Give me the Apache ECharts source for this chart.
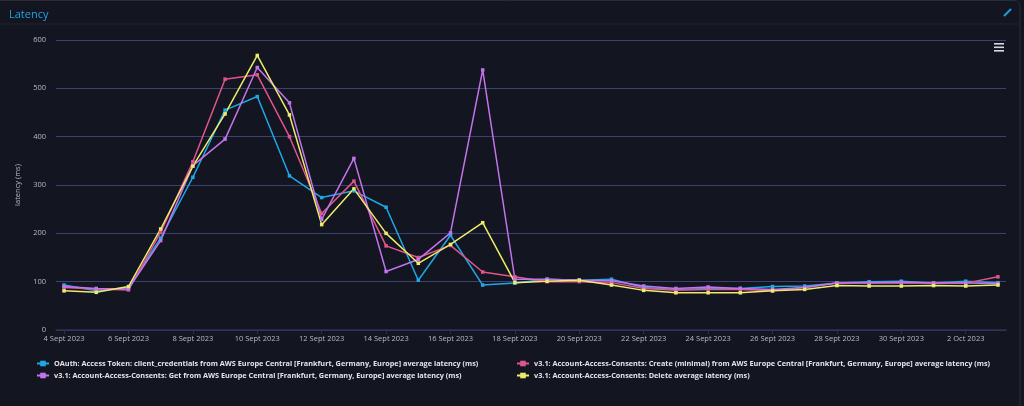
<!DOCTYPE html>
<html>
<head>
<meta charset="utf-8">
<title>Latency</title>
<script src="https://cdn.jsdelivr.net/npm/echarts@6/dist/echarts.min.js"></script>
<style>
  html, body { margin: 0; padding: 0; background: #131520; }
  #chart { width: 1024px; height: 406px; }
</style>
</head>
<body>
<div id="chart"></div>
<script>
// one point per day, 4 Sept -> 3 Oct 2023
var days = ['4 Sept 2023','5 Sept 2023','6 Sept 2023','7 Sept 2023','8 Sept 2023','9 Sept 2023','10 Sept 2023',
  '11 Sept 2023','12 Sept 2023','13 Sept 2023','14 Sept 2023','15 Sept 2023','16 Sept 2023','17 Sept 2023',
  '18 Sept 2023','19 Sept 2023','20 Sept 2023','21 Sept 2023','22 Sept 2023','23 Sept 2023','24 Sept 2023',
  '25 Sept 2023','26 Sept 2023','27 Sept 2023','28 Sept 2023','29 Sept 2023','30 Sept 2023','1 Oct 2023',
  '2 Oct 2023','3 Oct 2023'];

var names = [
  'OAuth: Access Token: client_credentials from AWS Europe Central [Frankfurt, Germany, Europe] average latency (ms)',
  'v3.1: Account-Access-Consents: Create (minimal) from AWS Europe Central [Frankfurt, Germany, Europe] average latency (ms)',
  'v3.1: Account-Access-Consents: Get from AWS Europe Central [Frankfurt, Germany, Europe] average latency (ms)',
  'v3.1: Account-Access-Consents: Delete average latency (ms)'
];

var oauth  = [93,81,88,190,316,455,483,319,274,288,254,103,196,93,97,105,103,105,88,84,86,86,90,91,97,100,101,97,101,98];
var create = [88,85,83,202,348,519,528,400,241,308,174,150,175,120,110,100,100,98,86,82,84,84,81,88,97,97,98,97,97,110];
var get    = [90,86,85,185,340,395,543,470,229,355,121,146,201,538,105,105,103,102,91,86,89,86,84,88,97,98,99,97,97,96];
var del    = [81,78,90,209,339,447,568,445,218,292,200,138,177,222,98,101,103,93,82,77,77,77,81,84,92,91,91,92,91,93];

// x tick labels every 2 days
var tickDays = ['4 Sept 2023','6 Sept 2023','8 Sept 2023','10 Sept 2023','12 Sept 2023','14 Sept 2023','16 Sept 2023',
  '18 Sept 2023','20 Sept 2023','22 Sept 2023','24 Sept 2023','26 Sept 2023','28 Sept 2023','30 Sept 2023','2 Oct 2023'];

var colors = ['#1ea8e6', '#e2548c', '#c274ec', '#ecec6a'];

function pairs(vals) {
  return vals.map(function (v, i) { return [i, v]; });
}

var chart = echarts.init(document.getElementById('chart'));
var ticks = tickDays.map(function (d) { return days.indexOf(d); });
var all = [oauth, create, get, del];
var legendText = { color: '#e4e4ea', fontSize: 7.3, fontWeight: 'bold', fontFamily: 'Open Sans' };

chart.setOption({
  animation: false,
  backgroundColor: '#131520',
  color: colors,
  title: {
    text: 'Latency',
    left: 4, top: 4,
    textStyle: { color: '#1ea3e4', fontSize: 11, fontWeight: 'normal', fontFamily: 'Open Sans' }
  },
  graphic: [
    { type: 'line', shape: { x1: 0, y1: 24, x2: 1019, y2: 24 }, style: { stroke: '#23262f', lineWidth: 1 } },
    { type: 'rect', shape: { x: -10, y: 0.5, width: 1030, height: 420, r: 6 },
      style: { fill: 'none', stroke: '#2a2d38', lineWidth: 1 } },
    { type: 'line', shape: { x1: 1004, y1: 16, x2: 1011, y2: 9 }, style: { stroke: '#1e9be0', lineWidth: 2 } },
    { type: 'rect', shape: { x: 994, y: 43, width: 10, height: 1.6 }, style: { fill: '#d8d8e0' } },
    { type: 'rect', shape: { x: 994, y: 46.5, width: 10, height: 1.6 }, style: { fill: '#d8d8e0' } },
    { type: 'rect', shape: { x: 994, y: 50, width: 10, height: 1.6 }, style: { fill: '#d8d8e0' } }
  ],
  legend: [
    {
      orient: 'vertical', left: 31, top: 355, itemGap: 5,
      itemWidth: 12, itemHeight: 7,
      data: [names[0], names[2]],
      textStyle: legendText
    },
    {
      orient: 'vertical', left: 511, top: 355, itemGap: 5,
      itemWidth: 12, itemHeight: 7,
      data: [names[1], names[3]],
      textStyle: legendText
    }
  ],
  grid: { left: 56, right: 18, top: 40, bottom: 76 },
  xAxis: {
    type: 'value',
    min: -0.25,
    max: days.length - 0.75,
    splitLine: { show: false },
    axisLine: { lineStyle: { color: '#2c3050', width: 1.5 } },
    axisTick: { customValues: ticks, length: 4, lineStyle: { color: '#2c3050' } },
    axisLabel: {
      customValues: ticks,
      color: '#b9b9c2', fontSize: 7.5, fontFamily: 'Open Sans', margin: 5,
      formatter: function (v) { return days[Math.round(v)]; }
    }
  },
  yAxis: {
    type: 'value',
    min: 0, max: 600, interval: 100,
    name: 'latency (ms)',
    nameLocation: 'middle',
    nameGap: 8,
    nameTextStyle: { color: '#b9b9c2', fontSize: 7.5, fontFamily: 'Open Sans' },
    axisLine: { show: false },
    axisTick: { show: false },
    axisLabel: { color: '#b9b9c2', fontSize: 7.5, fontFamily: 'Open Sans', margin: 10 },
    splitLine: { lineStyle: { color: '#3c4172', width: 1 } }
  },
  series: all.map(function (vals, i) {
    return {
      name: names[i],
      type: 'line',
      data: pairs(vals),
      symbol: 'rect',
      symbolSize: 3.5,
      showSymbol: true,
      lineStyle: { width: 1.5 },
      itemStyle: { color: colors[i] }
    };
  })
});
</script>
</body>
</html>
